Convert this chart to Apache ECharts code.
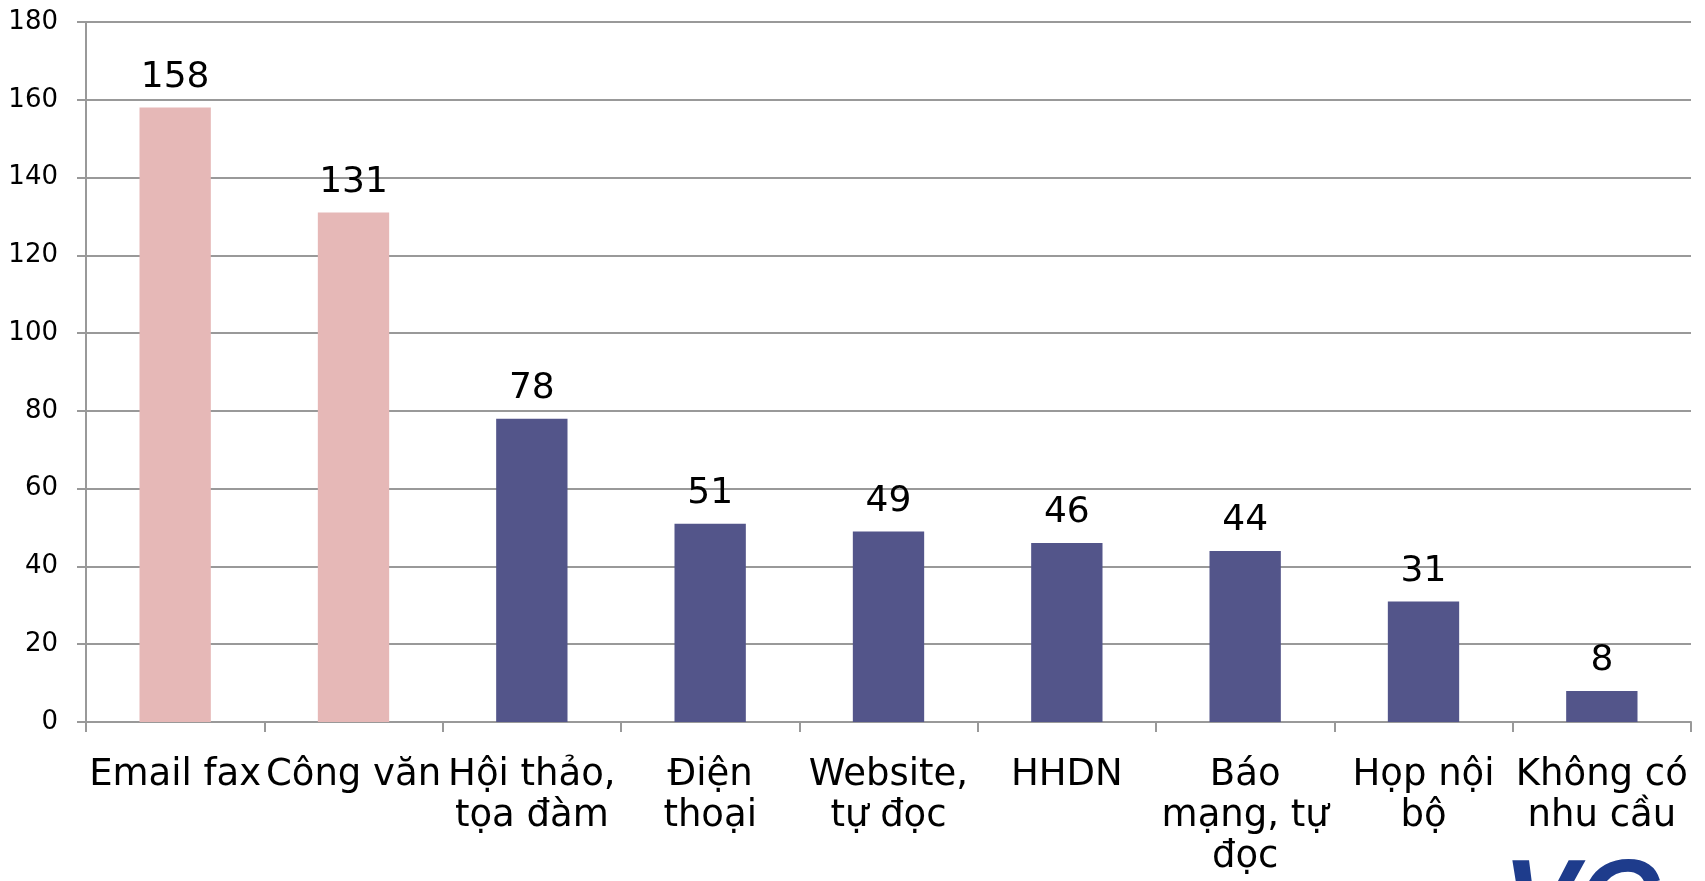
<!DOCTYPE html>
<html>
<head>
<meta charset="utf-8">
<script src="https://cdn.jsdelivr.net/npm/echarts@6/dist/echarts.min.js"></script>
<style>
  html, body { margin: 0; padding: 0; background: #fff; }
  #chart { width: 1705px; height: 881px; }
</style>
</head>
<body>
<div id="chart"></div>
<script>
// dữ liệu
const categories = [
    'Email fax', 'Công văn', 'Hội thảo,\ntọa đàm', 'Điện\nthoại', 'Website,\ntự đọc',
    'HHDN', 'Báo\nmạng, tự\nđọc', 'Họp nội\nbộ', 'Không có\nnhu cầu'
];
const values = [158, 131, 78, 51, 49, 46, 44, 31, 8];
// hai cột đầu tô màu hồng
const highlighted = [true, true, false, false, false, false, false, false, false];
const yTicks = { min: 0, max: 180, interval: 20 };

const pink = '#E6B8B7';
const navy = '#53558A';
const font = 'Verdana, "DejaVu Sans", sans-serif';

const chart = echarts.init(document.getElementById('chart'));

chart.setOption({
    animation: false,
    grid: {
        left: 86,
        right: 14,
        top: 22,
        bottom: 159
    },
    xAxis: {
        type: 'category',
        data: categories,
        axisLine: { lineStyle: { color: '#999', width: 2 } },
        axisTick: { show: true, length: 10, lineStyle: { color: '#999', width: 2 } },
        axisLabel: {
            interval: 0,
            margin: 33,
            fontSize: 37,
            lineHeight: 41,
            color: '#000',
            fontFamily: font
        }
    },
    yAxis: {
        type: 'value',
        min: yTicks.min,
        max: yTicks.max,
        interval: yTicks.interval,
        axisLine: { show: true, lineStyle: { color: '#999', width: 2 } },
        axisTick: { show: true, length: 9, lineStyle: { color: '#999', width: 2 } },
        splitLine: { lineStyle: { color: '#999', width: 2 } },
        axisLabel: {
            margin: 28,
            fontSize: 26,
            color: '#000',
            fontFamily: font
        }
    },
    series: [
        {
            type: 'bar',
            barWidth: '40%',
            data: values.map((v, i) => ({
                value: v,
                itemStyle: { color: highlighted[i] ? pink : navy }
            })),
            label: {
                show: true,
                position: 'top',
                distance: 12,
                fontSize: 36,
                color: '#000',
                fontFamily: font
            }
        }
    ],
    graphic: [
        {
            type: 'circle',
            shape: { cx: 1652, cy: 915, r: 26 },
            style: { fill: '#E09A2B' },
            z: 10
        },
        {
            type: 'text',
            left: 1503,
            top: 850,
            style: {
                text: 'VC',
                fontSize: 112,
                fontWeight: 'bold',
                fontStyle: 'italic',
                fill: '#1E3C8C',
                fontFamily: 'Arial, "Liberation Sans", sans-serif'
            },
            z: 9
        }
    ]
});

window.addEventListener('resize', function () {
    chart.resize();
});
</script>
</body>
</html>
